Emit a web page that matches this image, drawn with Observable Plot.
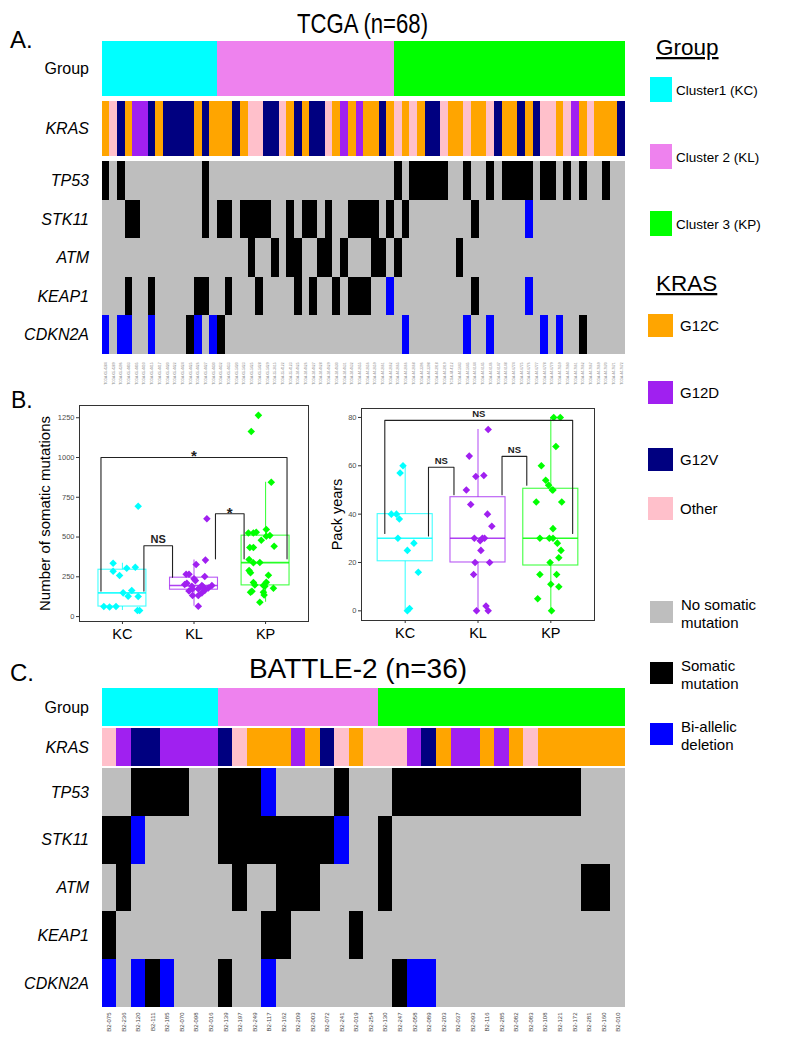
<!DOCTYPE html>
<html><head><meta charset="utf-8">
<script src="https://cdn.jsdelivr.net/npm/d3@7"></script>
<script src="https://cdn.jsdelivr.net/npm/@observablehq/plot@0.6"></script>
<style>
body{margin:0;background:#fff;}
#root{position:relative;width:787px;height:1042px;overflow:hidden;background:#fff;}
</style></head><body><div id="root"></div>
<script>
// ---------------- DATA ----------------
// Panel A: TCGA (n=68)
const tcgaIds = ["TCGA-05-4384","TCGA-05-4389","TCGA-05-4396","TCGA-05-4403","TCGA-05-4405","TCGA-05-4410","TCGA-05-4415","TCGA-05-4417","TCGA-05-4420","TCGA-05-4422","TCGA-05-4424","TCGA-05-4425","TCGA-05-4426","TCGA-05-4427","TCGA-05-4430","TCGA-05-4432","TCGA-05-4433","TCGA-05-5420","TCGA-05-5423","TCGA-05-5425","TCGA-05-5428","TCGA-05-5429","TCGA-35-3615","TCGA-35-4122","TCGA-35-4123","TCGA-38-4625","TCGA-38-4626","TCGA-38-4627","TCGA-38-4628","TCGA-38-4629","TCGA-38-4630","TCGA-38-4631","TCGA-38-4632","TCGA-44-2655","TCGA-44-2656","TCGA-44-2659","TCGA-44-2661","TCGA-44-2662","TCGA-44-2665","TCGA-44-2666","TCGA-44-2668","TCGA-44-3396","TCGA-44-3398","TCGA-44-3918","TCGA-44-3919","TCGA-44-4112","TCGA-44-5643","TCGA-44-5645","TCGA-44-6144","TCGA-44-6145","TCGA-44-6146","TCGA-44-6147","TCGA-44-6148","TCGA-44-6774","TCGA-44-6775","TCGA-44-6776","TCGA-44-6777","TCGA-44-6778","TCGA-44-6779","TCGA-44-7659","TCGA-44-7660","TCGA-44-7661","TCGA-44-7662","TCGA-44-7667","TCGA-44-7669","TCGA-44-7670","TCGA-44-7671","TCGA-44-7672"];
// group: 1 = KC, 2 = KL, 3 = KP
const tcgaGroup  = "111111111111111" + "22222222222222222222222" + "333333333333333333333333333333";
// KRAS: C = G12C, D = G12D, V = G12V, O = Other
const tcgaKRAS   = "COVCDDVCVV" + "VVCVCCCVCO" + "OVVOCVCVVO" + "CDCDCCVCOC" + "OCVVOCCOCC" + "OVCCVCVOOC" + "ODCOCCCV";
// mutation: 0 = none, 1 = somatic mutation, 2 = bi-allelic deletion
const tcgaTP53   = "1010000000" + "0001000000" + "0000000000" + "0000000010" + "1111100100" + "1011110110" + "10100100";
const tcgaSTK11  = "0001100000" + "0001011011" + "1100101101" + "0011110101" + "0000000010" + "0000020000" + "00000000";
const tcgaATM    = "0000000000" + "0000000001" + "0010110011" + "0100011010" + "0000001000" + "0000000000" + "00000000";
const tcgaKEAP1  = "0001001000" + "0011001000" + "1000010100" + "1011100200" + "0000000010" + "0000020000" + "00000000";
const tcgaCDKN2A = "2022002000" + "0120210000" + "0000000000" + "0000000002" + "0000000200" + "2000000202" + "00100000";

// Panel C: BATTLE-2 (n=36)
const battleIds = ["B2-075","B2-236","B2-120","B2-111","B2-185","B2-070","B2-098","B2-016","B2-139","B2-197","B2-249","B2-117","B2-162","B2-209","B2-003","B2-072","B2-241","B2-019","B2-254","B2-130","B2-247","B2-058","B2-089","B2-203","B2-037","B2-093","B2-116","B2-285","B2-082","B2-083","B2-108","B2-121","B2-172","B2-281","B2-160","B2-010"];
const battleGroup  = "11111111" + "22222222222" + "33333333333333333";
const battleKRAS   = "ODVVDDDDVO" + "CCCDCVOCOO" + "ODVCDDCDCO" + "CCCCCC";
const battleTP53   = "0011110011" + "1200001000" + "1111111111" + "111000";
const battleSTK11  = "1120000011" + "1111112001" + "0000000000" + "000000";
const battleATM    = "0100000001" + "0011100001" + "0000000000" + "000110";
const battleKEAP1  = "1000000000" + "0110000100" + "0000000000" + "000000";
const battleCDKN2A = "2021200010" + "0200000000" + "1220000000" + "000000";

// Panel B: boxplots (jitter = horizontal offset of each point)
const groupsB = ["KC","KL","KP"];
const mutKC  = [335,285,258,304,310,149,164,128,126,63,63,38,38,694,60];
const mutKCj = [-0.13,-0.13,-0.04,0.06,0.18,0.01,0.13,0.08,0.22,-0.26,-0.09,0.21,0.24,0.22,-0.18];
const mutKL  = [615,355,327,266,266,252,237,226,195,195,201,174,174,161,164,149,132,132,65,210,185,190,180];
const mutKLj = [0.18,0.16,0.03,-0.11,-0.07,0.15,0,0.02,0.11,0.25,-0.13,-0.02,0.06,-0.07,0.15,0.11,-0.02,0.06,0.06,-0.10,0.13,-0.03,0.20];
const mutKP  = [1265,1164,845,526,526,530,547,505,434,434,442,359,338,289,275,260,214,199,216,195,191,178,159,153,153,136,90,340,480,510];
const mutKPj = [-0.10,-0.20,0.08,-0.24,-0.17,-0.13,0.01,0.01,-0.22,-0.17,0.12,-0.23,-0.17,-0.23,-0.21,0.04,-0.17,-0.15,0.01,-0.03,-0.01,0.11,-0.19,-0.21,-0.03,-0.02,-0.08,-0.08,-0.06,0.06];
const packKC  = [60,57,40,40,38,30,28,25,16,1,0];
const packKCj = [-0.03,-0.07,-0.19,-0.12,-0.08,-0.10,0.12,0.03,0.18,0.06,0.03];
const packKL  = [75,64,55.6,56,50,44,40,35,30,29,30,30,25,20,20,15,2,0,0];
const packKLj = [0.14,-0.12,-0.03,0.08,-0.16,-0.10,0.13,0.19,-0.05,0.03,0.06,0.09,0.04,-0.04,0.16,-0.06,0.11,-0.02,0.14];
const packKP  = [80,80,68,60,54,52,50,50,45,45,34,30,30,30,28,25,22,20,15,15,11,10,5,0];
const packKPj = [0.04,0.13,0.07,-0.13,-0.07,-0.03,0.02,0.03,-0.20,0.15,0.03,-0.15,-0.02,0.03,0.09,0.14,0.11,-0.01,-0.15,0.08,0,0.11,-0.18,0.01];
const mutTicks  = [0,250,500,750,1000,1250];
const packTicks = [0,20,40,60,80];
// significance brackets: x1, x2 (group positions), y, left leg end, right leg end, label
const mutBrackets  = [
  {x1:0.7, x2:3.3, y:1000, yl:160, yr:363, label:"*"},
  {x1:1.3, x2:1.7, y:445,  yl:160, yr:247, label:"NS"},
  {x1:2.3, x2:2.7, y:646,  yl:363, yr:363, label:"*"}
];
const packBrackets = [
  {x1:0.72, x2:3.3, y:78.8, yl:32, yr:32, label:"NS"},
  {x1:1.32, x2:1.67, y:59.4, yl:31, yr:48, label:"NS"},
  {x1:2.33, x2:2.67, y:63.9, yl:48, yr:52, label:"NS"}
];

// Legend
const legendGroup = ["Cluster1 (KC)","Cluster 2 (KL)","Cluster 3 (KP)"];
const legendKRAS  = ["G12C","G12D","G12V","Other"];
const legendMut   = [["No somatic","mutation"],["Somatic","mutation"],["Bi-allelic","deletion"]];

// ---------------- STYLE ----------------
const FONT = "'Liberation Sans', Arial, Helvetica, sans-serif";
const codeDomain = ["G1","G2","G3","C","D","V","O","0","1","2"];
const codeRange  = ["#00FFFF","#EE82EE","#00FF00","#FFA500","#A020F0","#000080","#FFC0CB","#BEBEBE","#000000","#0000FF"];
const boxColors  = ["#00FFFF","#A020F0","#00FF00"];

const root = document.getElementById("root");
function place(node, left, top) {
  node.style.position = "absolute";
  node.style.left = left + "px";
  node.style.top = top + "px";
  root.appendChild(node);
}

// ---------------- HEATMAPS ----------------
function heat(ids, rows, top, height, {italic = false, labels = null, right = 162} = {}) {
  const data = rows.flatMap(r => ids.map((id, i) => ({id, row: r.name, v: (r.prefix || "") + r.codes[i]})));
  const mb = labels ? labels.mb : 0;
  const marks = [
    Plot.cell(data, {x: "id", y: "row", fill: "v", inset: 0, shapeRendering: "crispEdges"}),
    Plot.axisY({tickSize: 0, tickPadding: 13, fontSize: 16, fontStyle: italic ? "italic" : "normal", fill: "black", label: null})
  ];
  if (labels) marks.push(Plot.axisX({tickSize: 0, tickPadding: labels.pad, tickRotate: -90, fontSize: labels.size, fill: labels.color, label: null}));
  const svg = Plot.plot({
    width: 787, height: height + mb,
    marginLeft: 101.5, marginRight: right, marginTop: 0, marginBottom: mb,
    x: {type: "band", domain: ids, padding: 0, round: false, axis: null, label: null},
    y: {type: "band", domain: rows.map(r => r.name), padding: 0, round: false, axis: null, label: null},
    color: {type: "ordinal", domain: codeDomain, range: codeRange},
    style: {background: "transparent", fontFamily: FONT, overflow: "visible"},
    marks
  });
  place(svg, 0, top);
}

// Panel A
heat(tcgaIds, [{name: "Group", codes: tcgaGroup, prefix: "G"}], 41, 55);
heat(tcgaIds, [{name: "KRAS", codes: tcgaKRAS}], 101, 55, {italic: true});
heat(tcgaIds, [
  {name: "TP53", codes: tcgaTP53}, {name: "STK11", codes: tcgaSTK11}, {name: "ATM", codes: tcgaATM},
  {name: "KEAP1", codes: tcgaKEAP1}, {name: "CDKN2A", codes: tcgaCDKN2A}
], 161, 193, {italic: true, labels: {mb: 34, pad: 8, size: 3.3, color: "#8a8a8a"}});

// Panel C
heat(battleIds, [{name: "Group", codes: battleGroup, prefix: "G"}], 688, 38);
heat(battleIds, [{name: "KRAS", codes: battleKRAS}], 728, 38, {italic: true});
heat(battleIds, [
  {name: "TP53", codes: battleTP53}, {name: "STK11", codes: battleSTK11}, {name: "ATM", codes: battleATM},
  {name: "KEAP1", codes: battleKEAP1}, {name: "CDKN2A", codes: battleCDKN2A}
], 768, 239, {italic: true, labels: {mb: 35, pad: 5, size: 6, color: "#444"}});

// ---------------- BOXPLOTS ----------------
function stats(vals) {
  const s = d3.sort(vals);
  const q1 = d3.quantile(s, 0.25), q2 = d3.quantile(s, 0.5), q3 = d3.quantile(s, 0.75);
  const iqr = q3 - q1;
  return {q1, q2, q3, lo: d3.min(s.filter(v => v >= q1 - 1.5 * iqr)), hi: d3.max(s.filter(v => v <= q3 + 1.5 * iqr))};
}
function boxChart({values, jitters, yDomain, yTicks, yLabel, labelDx, labelSize, brackets, nsSize, hw, width, mL, mR, mT, mB, left, top}) {
  const pts = groupsB.flatMap((g, gi) => values[gi].map((v, j) => ({g, x: gi + 1 + jitters[gi][j], y: v})));
  const st = groupsB.map((g, gi) => ({g, pos: gi + 1, ...stats(values[gi])}));
  const paths = brackets.flatMap((b, i) => [
    {i, x: b.x1, y: b.yl}, {i, x: b.x1, y: b.y}, {i, x: b.x2, y: b.y}, {i, x: b.x2, y: b.yr}
  ]);
  const svg = Plot.plot({
    width, height: 260, marginLeft: mL, marginRight: mR, marginTop: mT, marginBottom: mB,
    x: {domain: [0.4, 3.6], axis: null},
    y: {domain: yDomain, axis: null},
    color: {domain: groupsB, range: boxColors},
    style: {background: "transparent", fontFamily: FONT, overflow: "visible"},
    marks: [
      Plot.ruleX(st, {x: "pos", y1: "lo", y2: "q1", stroke: "g", strokeOpacity: 0.75, strokeWidth: 1.1}),
      Plot.ruleX(st, {x: "pos", y1: "q3", y2: "hi", stroke: "g", strokeOpacity: 0.75, strokeWidth: 1.1}),
      Plot.rect(st, {x1: d => d.pos - hw, x2: d => d.pos + hw, y1: "q1", y2: "q3", fill: "white", fillOpacity: 0, stroke: "g", strokeOpacity: 0.75, strokeWidth: 1.1}),
      Plot.ruleY(st, {x1: d => d.pos - hw, x2: d => d.pos + hw, y: "q2", stroke: "g", strokeOpacity: 0.85, strokeWidth: 1.6}),
      Plot.dot(pts, {x: "x", y: "y", fill: "g", symbol: "diamond2", r: 3.4, stroke: null}),
      Plot.line(paths, {x: "x", y: "y", z: "i", stroke: "#222", strokeWidth: 1.1, curve: "linear"}),
      Plot.text(brackets.filter(b => b.label === "*"), {x: b => (b.x1 + b.x2) / 2, y: "y", text: "label", fontSize: 15, fontWeight: "bold", dy: -1, fill: "#222"}),
      Plot.text(brackets.filter(b => b.label !== "*"), {x: b => (b.x1 + b.x2) / 2, y: "y", text: "label", fontSize: nsSize, fontWeight: "bold", dy: -6, fill: "#222"}),
      Plot.frame({stroke: "#333", strokeWidth: 1}),
      Plot.axisY({ticks: yTicks, tickFormat: d => String(d), tickSize: 3, tickPadding: 2, fontSize: 7.5, fill: "#4D4D4D", stroke: "#333", label: null}),
      Plot.axisX({ticks: [1, 2, 3], tickFormat: d => groupsB[d - 1], tickSize: 3, tickPadding: 4, fontSize: 14.5, fill: "black", stroke: "#333", label: null}),
      Plot.text([yLabel], {frameAnchor: "left", dx: labelDx, rotate: -90, textAnchor: "middle", fontSize: labelSize, fill: "black"})
    ]
  });
  place(svg, left, top);
}
boxChart({values: [mutKC, mutKL, mutKP], jitters: [mutKCj, mutKLj, mutKPj], yDomain: [-31, 1327], yTicks: mutTicks,
  yLabel: "Number of somatic mutations", labelDx: -34, labelSize: 15, brackets: mutBrackets, nsSize: 11, hw: 0.335,
  width: 330, mL: 79, mR: 22, mT: 20, mB: 24, left: 0, top: 385});
boxChart({values: [packKC, packKL, packKP], jitters: [packKCj, packKLj, packKPj], yDomain: [-4, 83.7], yTicks: packTicks,
  yLabel: "Pack years", labelDx: -24, labelSize: 14.5, brackets: packBrackets, nsSize: 9.5, hw: 0.378,
  width: 290, mL: 31, mR: 26, mT: 23, mB: 25, left: 330, top: 385});

// ---------------- TITLES + LEGEND (overlay) ----------------
const ov = d3.create("svg").attr("width", 787).attr("height", 1042)
  .style("pointer-events", "none").style("font-family", FONT);
function txt(x, y, s, size, opts = {}) {
  const t = ov.append("text").attr("x", x).attr("y", y).attr("font-size", size).attr("fill", "black").text(s);
  if (opts.anchor) t.attr("text-anchor", opts.anchor);
  if (opts.len) t.attr("textLength", opts.len).attr("lengthAdjust", "spacingAndGlyphs");
  if (opts.underline) t.style("text-decoration", "underline");
  return t;
}
txt(10, 48, "A.", 24);
txt(362.5, 33, "TCGA (n=68)", 28, {anchor: "middle", len: 131});
txt(11, 408, "B.", 23);
txt(10, 681, "C.", 24);
txt(358, 678, "BATTLE-2 (n=36)", 28, {anchor: "middle"});

txt(656, 55, "Group", 22.5, {underline: true});
const gY = [77, 144, 211];
legendGroup.forEach((s, i) => {
  ov.append("rect").attr("x", 650).attr("y", gY[i]).attr("width", 22).attr("height", 25).attr("fill", codeRange[i]);
  txt(676, gY[i] + 17.5, s, 13.5);
});
txt(656, 291, "KRAS", 22.5, {underline: true});
const kY = [314, 381, 448, 497];
legendKRAS.forEach((s, i) => {
  ov.append("rect").attr("x", 648).attr("y", kY[i]).attr("width", 25).attr("height", 23).attr("fill", codeRange[3 + i]);
  txt(680, kY[i] + 17, s, 15);
});
const mY = [601, 662, 723];
legendMut.forEach((s, i) => {
  ov.append("rect").attr("x", 650).attr("y", mY[i]).attr("width", 23).attr("height", 22).attr("fill", codeRange[7 + i]);
  txt(681, mY[i] + 9, s[0], 15);
  txt(681, mY[i] + 27, s[1], 15);
});
place(ov.node(), 0, 0);
</script></body></html>
